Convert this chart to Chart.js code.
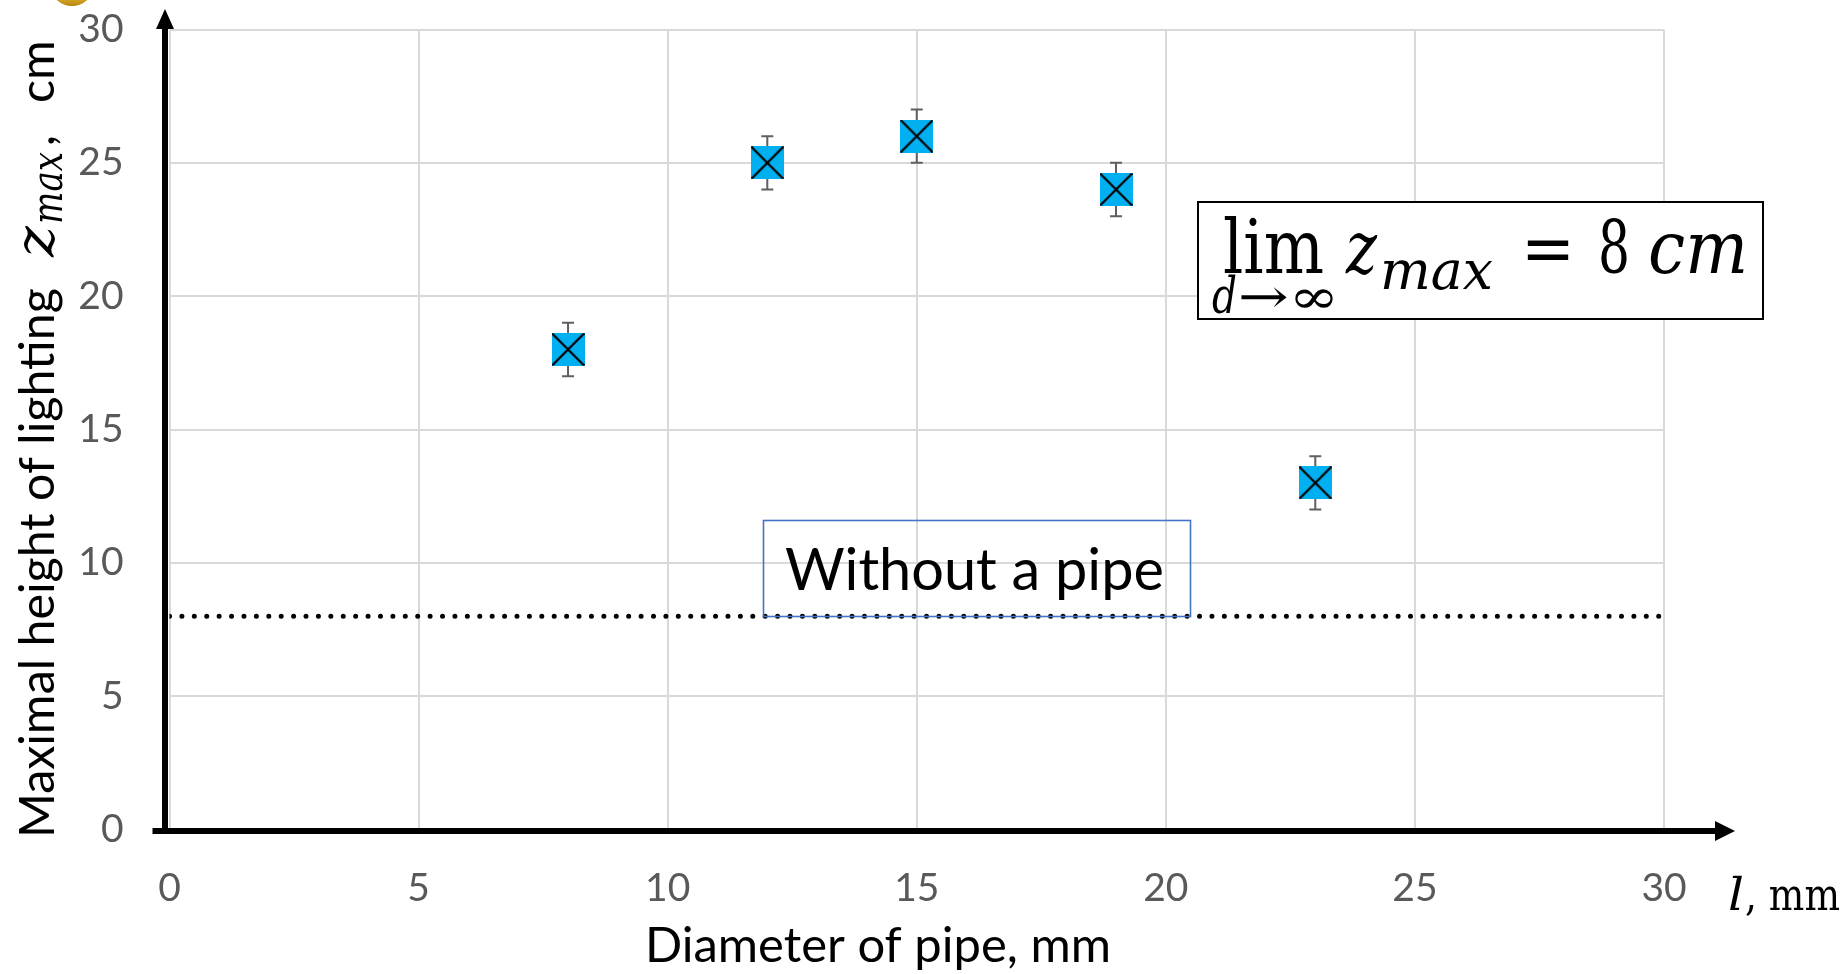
<!DOCTYPE html>
<html>
<head>
<meta charset="utf-8">
<script src="https://cdn.jsdelivr.net/npm/chart.js@4.4.1/dist/chart.umd.min.js"></script>
<style>
  html, body { margin: 0; padding: 0; background: #ffffff; }
  canvas { display: block; }
</style>
</head>
<body>
<canvas id="chart" width="1846" height="974"></canvas>
<script>
// Pipe diameter (mm) against maximal height of the lighting (cm)
const diameters = [8, 12, 15, 19, 23];
const heights = [18, 25, 26, 24, 13];
const heightErrors = [1, 1, 1, 1, 1];

// Level reached without any pipe, drawn across the whole diameter range
const noPipeHeight = 8;
const noPipeSpan = [0, 30];

// Axis ranges and tick spacing
const xRange = [0, 30];
const yRange = [0, 30];
const tickStep = 5;

const SANS = 'Lato, "Open Sans", sans-serif';
const SERIF = '"DejaVu Serif", "Liberation Serif", serif';

// Blue square marker crossed by two black diagonals
function makeMarker(size) {
  const c = document.createElement('canvas');
  c.width = size; c.height = size;
  const g = c.getContext('2d');
  g.fillStyle = '#00B0F0';
  g.fillRect(0, 0, size, size);
  g.strokeStyle = '#000000';
  g.lineWidth = 2.2;
  g.lineCap = 'butt';
  g.beginPath();
  g.moveTo(0.5, 0.5); g.lineTo(size - 0.5, size - 0.5);
  g.moveTo(size - 0.5, 0.5); g.lineTo(0.5, size - 0.5);
  g.stroke();
  return c;
}
const marker = makeMarker(33);

// Draws text so that it spans exactly `width` pixels from `x`
function fitText(ctx, text, font, x, y, width) {
  ctx.font = font;
  const w = ctx.measureText(text).width;
  ctx.save();
  ctx.translate(x, y);
  ctx.scale(width / w, 1);
  ctx.fillText(text, 0, 0);
  ctx.restore();
}

// Picks a font size so that the text spans `width` pixels
function sizedFont(ctx, text, style, family, width) {
  ctx.font = style + ' 100px ' + family;
  const w = ctx.measureText(text).width;
  return style + ' ' + (100 * width / w).toFixed(2) + 'px ' + family;
}

const errorBars = {
  id: 'errorBars',
  beforeDatasetsDraw(chart) {
    const { ctx, scales: { x, y } } = chart;
    ctx.save();
    ctx.strokeStyle = '#5f5f5f';
    ctx.lineWidth = 2;
    diameters.forEach((d, i) => {
      const px = x.getPixelForValue(d);
      const top = y.getPixelForValue(heights[i] + heightErrors[i]);
      const bot = y.getPixelForValue(heights[i] - heightErrors[i]);
      ctx.beginPath();
      ctx.moveTo(px, top); ctx.lineTo(px, bot);
      ctx.moveTo(px - 6, top); ctx.lineTo(px + 6, top);
      ctx.moveTo(px - 6, bot); ctx.lineTo(px + 6, bot);
      ctx.stroke();
    });
    ctx.restore();
  }
};

const decorations = {
  id: 'decorations',
  afterDraw(chart) {
    const { ctx, chartArea: a, scales: { x } } = chart;
    ctx.save();

    // Small gold ornament at the top-left corner
    const grad = ctx.createLinearGradient(0, -10, 0, 6);
    grad.addColorStop(0, '#f3cf55');
    grad.addColorStop(1, '#b8860b');
    ctx.fillStyle = grad;
    ctx.beginPath();
    ctx.ellipse(72, -14, 21, 20, 0, 0, Math.PI * 2);
    ctx.fill();

    // Axis arrows
    ctx.fillStyle = '#000000';
    const vx = a.left - 4.5;
    const hy = a.bottom + 1.5;
    ctx.fillRect(vx - 3, 24, 6, hy + 3 - 24);
    ctx.beginPath();
    ctx.moveTo(vx, 9); ctx.lineTo(vx - 9, 29); ctx.lineTo(vx + 9, 29); ctx.closePath();
    ctx.fill();
    const tip = x.getPixelForValue(xRange[1]) + 71;
    ctx.fillRect(a.left - 17, hy - 3, tip - 19 - (a.left - 17), 6);
    ctx.beginPath();
    ctx.moveTo(tip, hy); ctx.lineTo(tip - 20, hy - 10); ctx.lineTo(tip - 20, hy + 10); ctx.closePath();
    ctx.fill();

    // "Without a pipe" label box
    ctx.strokeStyle = '#4472C4';
    ctx.lineWidth = 1.6;
    ctx.strokeRect(763.5, 520.5, 427, 96);
    ctx.fillStyle = '#000000';
    ctx.textBaseline = 'alphabetic';
    ctx.textAlign = 'left';
    ctx.font = sizedFont(ctx, 'Without a pipe', 'normal', SANS, 379);
    ctx.fillText('Without a pipe', 785, 590);

    // Limit formula box
    ctx.fillStyle = '#ffffff';
    ctx.fillRect(1198, 202, 565, 117);
    ctx.strokeStyle = '#000000';
    ctx.lineWidth = 2;
    ctx.strokeRect(1198, 202, 565, 117);
    ctx.fillStyle = '#000000';
    fitText(ctx, 'lim', '74px ' + SERIF, 1223, 273, 101);
    fitText(ctx, 'z', 'italic 72px ' + SERIF, 1346, 273, 31);
    fitText(ctx, 'max', 'italic 54px ' + SERIF, 1380, 289, 113);
    fitText(ctx, '=', '70px ' + SERIF, 1521, 272, 54);
    fitText(ctx, '8', '72px ' + SERIF, 1598, 273, 32);
    fitText(ctx, 'cm', 'italic 72px ' + SERIF, 1648, 273, 100);
    fitText(ctx, 'd', 'italic 50px ' + SERIF, 1212, 313, 25);
    fitText(ctx, '→∞', '48px ' + SERIF, 1238, 313, 101);

    // Unit label at the end of the horizontal axis
    fitText(ctx, 'l', 'italic 44px ' + SERIF, 1728, 910, 16);
    fitText(ctx, ', mm', '44px ' + SERIF, 1745, 910, 95);

    // Horizontal axis title
    ctx.font = sizedFont(ctx, 'Diameter of pipe, mm', 'normal', SANS, 466);
    ctx.fillText('Diameter of pipe, mm', 645, 962);

    // Vertical axis title, read bottom to top
    ctx.save();
    ctx.translate(54, 838);
    ctx.rotate(-Math.PI / 2);
    const titleFont = sizedFont(ctx, 'Maximal height of lighting', 'normal', SANS, 550);
    ctx.font = titleFont;
    ctx.fillText('Maximal height of lighting', 0, 0);
    fitText(ctx, 'z', 'italic 54px ' + SERIF, 838 - 257, 0, 31);
    fitText(ctx, 'max', 'italic 42px ' + SERIF, 838 - 224, 8, 72);
    ctx.font = titleFont;
    ctx.fillText(',', 838 - 146, 0);
    ctx.fillText('cm', 838 - 103, 0);
    ctx.restore();

    ctx.restore();
  }
};

new Chart(document.getElementById('chart'), {
  type: 'scatter',
  data: {
    datasets: [
      {
        label: 'Without a pipe',
        type: 'line',
        data: noPipeSpan.map(v => ({ x: v, y: noPipeHeight })),
        borderColor: '#000000',
        borderWidth: 5,
        borderDash: [0.01, 12.4],
        borderCapStyle: 'round',
        pointRadius: 0,
        fill: false,
        order: 2
      },
      {
        label: 'Maximal height',
        data: diameters.map((d, i) => ({ x: d, y: heights[i] })),
        pointStyle: marker,
        pointRadius: 17,
        pointHoverRadius: 17,
        order: 1
      }
    ]
  },
  options: {
    responsive: false,
    animation: false,
    devicePixelRatio: 1,
    layout: { padding: { top: 29.5, right: 182, left: 0, bottom: 0 } },
    plugins: { legend: { display: false }, tooltip: { enabled: false } },
    scales: {
      x: {
        type: 'linear',
        min: xRange[0], max: xRange[1],
        ticks: { stepSize: tickStep, color: '#595959', font: { family: SANS, size: 39 }, padding: 36 },
        grid: { color: '#d9d9d9', lineWidth: 2, drawTicks: false },
        border: { display: false },
        afterFit(scale) {
          scale.height = 144.5;
          scale.paddingLeft = 0; scale.paddingRight = 0;
        }
      },
      y: {
        type: 'linear',
        min: yRange[0], max: yRange[1],
        ticks: { stepSize: tickStep, color: '#595959', font: { family: SANS, size: 39 }, padding: 46 },
        grid: { color: '#d9d9d9', lineWidth: 2, drawTicks: false },
        border: { display: false },
        afterFit(scale) {
          scale.width = 169.5;
          scale.paddingTop = 0; scale.paddingBottom = 0;
        }
      }
    }
  },
  plugins: [errorBars, decorations]
});
</script>
</body>
</html>
